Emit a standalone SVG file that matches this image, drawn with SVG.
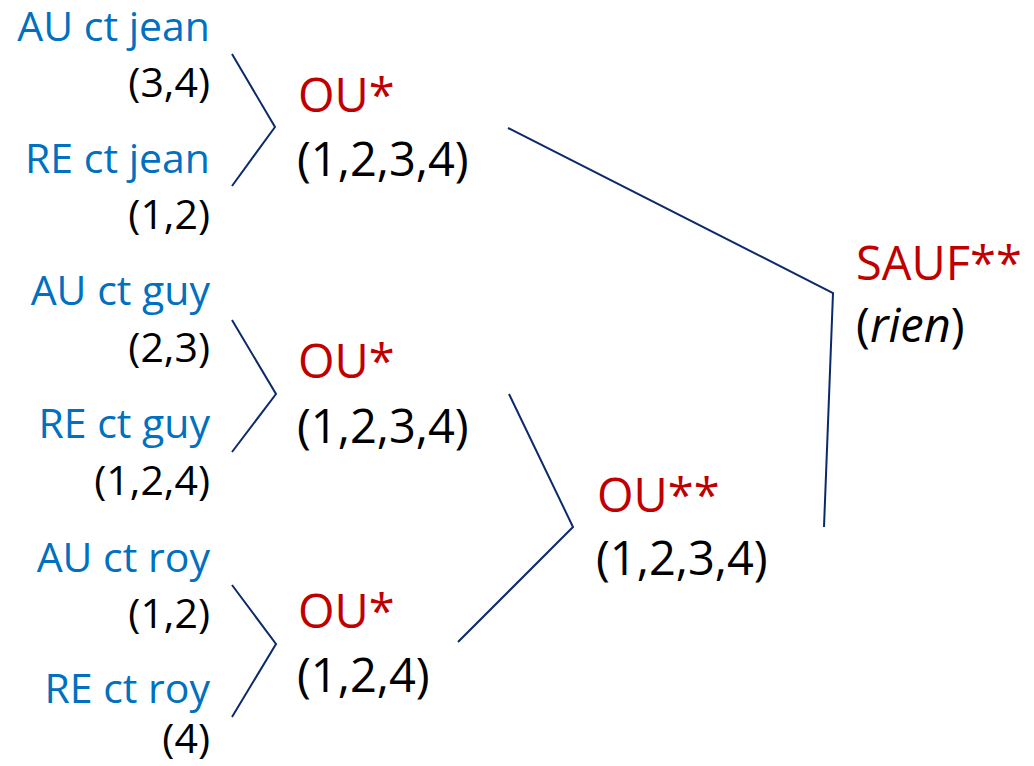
<svg xmlns="http://www.w3.org/2000/svg" width="1034" height="766" viewBox="0 0 1034 766">
<style>
text{font-family:"Open Sans","Noto Sans",sans-serif}
.lb{fill:#0070C0;font-size:41px;text-anchor:end}
.lv{fill:#000;font-size:41px;text-anchor:end}
.op{fill:#C00000;font-size:47px}
.ov{fill:#000;font-size:47px}
.ln{fill:none;stroke:#0B2A6B;stroke-width:2}
</style>
<rect width="1034" height="766" fill="#fff"/>
<g id="connectors">
<polyline class="ln" points="232,54 275,127 232,186"/>
<polyline class="ln" points="232,320 276,394 232,452"/>
<polyline class="ln" points="232,585 276,644 232,717"/>
<polyline class="ln" points="508,128 833,293 824,527"/>
<polyline class="ln" points="509,394 573,527 458,642"/>
</g>
<g id="au-jean"><text class="lb" x="210" y="41">AU ct jean</text><text class="lv" x="210" y="97">(3,4)</text></g>
<g id="re-jean"><text class="lb" x="210" y="173">RE ct jean</text><text class="lv" x="210" y="229">(1,2)</text></g>
<g id="au-guy"><text class="lb" x="210" y="305">AU ct guy</text><text class="lv" x="210" y="362">(2,3)</text></g>
<g id="re-guy"><text class="lb" x="210" y="438">RE ct guy</text><text class="lv" x="210" y="495">(1,2,4)</text></g>
<g id="au-roy"><text class="lb" x="210" y="572">AU ct roy</text><text class="lv" x="210" y="628">(1,2)</text></g>
<g id="re-roy"><text class="lb" x="210" y="703">RE ct roy</text><text class="lv" x="210" y="753">(4)</text></g>
<g id="ou1"><text class="op" x="298" y="112">OU*</text><text class="ov" x="297" y="176">(1,2,3,4)</text></g>
<g id="ou2"><text class="op" x="298" y="378">OU*</text><text class="ov" x="297" y="443">(1,2,3,4)</text></g>
<g id="ou3"><text class="op" x="298" y="628">OU*</text><text class="ov" x="297" y="692">(1,2,4)</text></g>
<g id="ou4"><text class="op" x="597" y="512">OU**</text><text class="ov" x="596" y="575">(1,2,3,4)</text></g>
<g id="sauf"><text class="op" x="856" y="280">SAUF**</text><text class="ov" x="856" y="342">(<tspan font-style="italic">rien</tspan>)</text></g>
</svg>
